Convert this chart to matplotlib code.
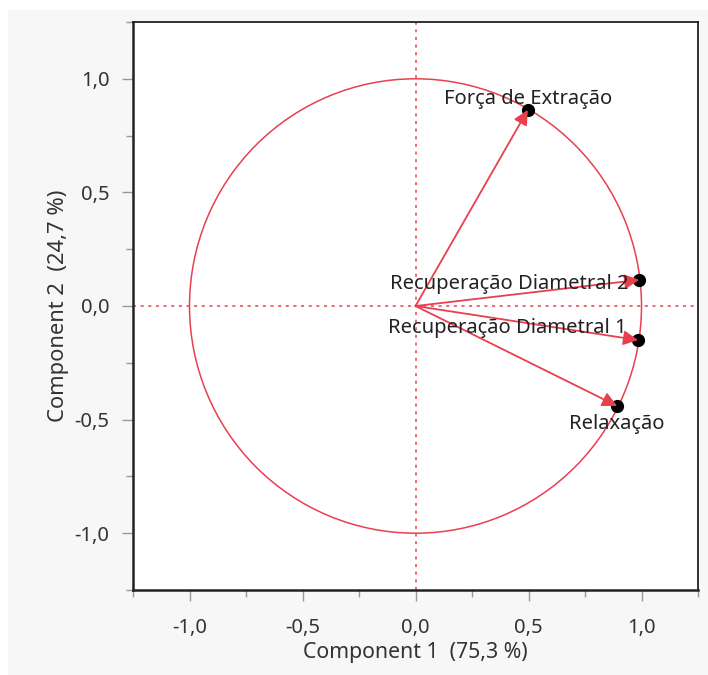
import numpy as np
import matplotlib.pyplot as plt
from matplotlib.patches import Circle, Rectangle, FancyArrowPatch

# loadings on the first two components
variables = ['Força de Extração', 'Recuperação Diametral 2',
             'Recuperação Diametral 1', 'Relaxação']
comp1 = [0.497, 0.990, 0.985, 0.892]
comp2 = [0.863, 0.115, -0.150, -0.440]

ticks = [-1.0, -0.5, 0.0, 0.5, 1.0]
tick_labels = ['-1,0', '-0,5', '0,0', '0,5', '1,0']
xlab = 'Component 1  (75,3 %)'
ylab = 'Component 2  (24,7 %)'

red = '#e8404e'
fs = 14.5
plt.rcParams['font.family'] = ['Noto Sans', 'DejaVu Sans']

fig = plt.figure(figsize=(7.08, 6.75), dpi=100, facecolor='white')
fig.patches.append(Rectangle((8/708, 0), 1, (675-10)/675, transform=fig.transFigure,
                             facecolor='#f7f7f7', edgecolor='none', zorder=-10))
ax = fig.add_axes([133/708, 85/675, 565/708, 568/675])
ax.set_facecolor('white')

ax.set_xlim(-1.25, 1.25)
ax.set_ylim(-1.25, 1.25)

ax.add_patch(Circle((0, 0), 1.0, fill=False, ec=red, lw=1.1, zorder=2))
ax.axhline(0, color=red, ls=(0, (2, 3)), lw=1.1, zorder=1)
ax.axvline(0, color=red, ls=(0, (2, 3)), lw=1.1, zorder=1)

# label placement per variable: (dx, dy in points, ha, va)
offs = [(0, 1, 'center', 'bottom'), (-8, -3, 'right', 'center'),
        (-8, 9, 'right', 'center'), (0, -6, 'center', 'top')]

for name, x, y, (dx, dy, ha, va) in zip(variables, comp1, comp2, offs):
    ax.plot(x, y, 'o', color='black', ms=8.5, zorder=3)
    ax.add_patch(FancyArrowPatch((0, 0), (x, y), arrowstyle='-|>',
                                 mutation_scale=22, color=red, lw=1.3,
                                 shrinkA=0, shrinkB=0, zorder=4))
    ax.annotate(name, (x, y), xytext=(dx, dy), textcoords='offset points',
                ha=ha, va=va, fontsize=fs, color='#222222', zorder=5)

ax.set_xticks(ticks)
ax.set_xticklabels(tick_labels)
ax.set_yticks(ticks)
ax.set_yticklabels(tick_labels)
ax.set_xticks(np.arange(-1.25, 1.26, 0.25), minor=True)
ax.set_yticks(np.arange(-1.25, 1.26, 0.25), minor=True)
ax.tick_params(which='major', length=8, width=1, color='#999999',
               labelsize=fs, labelcolor='#333333', pad=12)
ax.tick_params(axis='y', which='major', pad=9)
ax.tick_params(which='minor', length=5, width=1, color='#999999')

for s in ax.spines.values():
    s.set_color('#222222')
    s.set_linewidth(1.3)
ax.spines['left'].set_linewidth(1.8)
ax.spines['bottom'].set_linewidth(1.8)

ax.set_xlabel(xlab, fontsize=15.3, color='#333333', labelpad=3)
ax.set_ylabel(ylab, fontsize=15.8, color='#333333', labelpad=4)

fig.savefig('out.png', dpi=100, facecolor=fig.get_facecolor())
